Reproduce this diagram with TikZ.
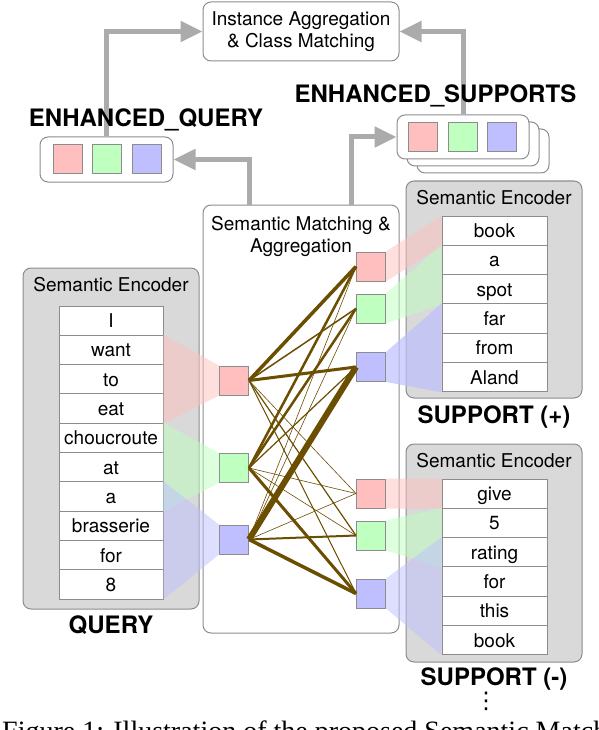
\documentclass[tikz,border=0pt]{standalone}
\usepackage{fontspec}
\setmainfont{TeX Gyre Heros}
\newfontfamily\capserif{Liberation Serif}
\newfontfamily\dotsfont{DejaVu Sans}
\usetikzlibrary{arrows.meta,positioning,calc}
\definecolor{vecpink}{HTML}{FFBFBF}
\definecolor{vecgreen}{HTML}{BFFFBF}
\definecolor{vecblue}{HTML}{BFBFFF}
\definecolor{linkbrown}{HTML}{6B4E00}
\definecolor{boxgray}{HTML}{D9D9D9}
\definecolor{edgegray}{HTML}{8C8C8C}
\definecolor{arrowgray}{HTML}{ABABAB}
\newcommand{\smfont}{\fontsize{19}{22}\selectfont}
\newcommand{\bigbold}{\fontsize{24}{28}\selectfont\bfseries}
\tikzset{
      cell/.style = {draw=edgegray, fill=white, line width=0.9pt,
                     minimum width=104pt, minimum height=29.3pt, inner sep=0pt,
                     text height=14pt, text depth=0pt, font=\smfont, alias=tmp},
       vec/.style = {draw=edgegray, line width=1pt, minimum size=29pt, inner sep=0pt},
   encoder/.style = {draw=edgegray, fill=boxgray, line width=1pt,
                     rounded corners=8pt, minimum width=176pt},
     panel/.style = {draw=edgegray, fill=white, line width=1pt, rounded corners=8pt},
      flow/.style = {draw=arrowgray, line width=5pt, -{Triangle[length=22pt,width=20pt]}},
      proj/.style = {fill opacity=0.5},
       tag/.style = {font=\bigbold, inner sep=0pt},
       lbl/.style = {font=\smfont, inner sep=0pt, align=center},
        }

\begin{document}
\begin{tikzpicture}[x=1pt,y=-1pt]
\useasboundingbox (0,0) rectangle (598,730);
% output side
\node[panel, lbl, minimum width=196pt, minimum height=59pt] (top) at (301,31.5)
     {Instance Aggregation\\\& Class Matching};
\node[panel, minimum width=133pt, minimum height=45pt] (eq) at (106.5,159.5) {};
\node[vec, fill=vecpink]  (e1) at (67.5,159) {};
\node[vec, fill=vecgreen] (e2) at (107,159) {};
\node[vec, fill=vecblue]  (e3) at (146.5,159) {};
\node[panel, minimum width=132pt, minimum height=44pt] (es2) at (483,151) {};
\node[panel, minimum width=132pt, minimum height=44pt] (es1) at (473,144) {};
\node[panel, minimum width=132pt, minimum height=44pt] (es) at (463,137) {};
\node[vec, fill=vecpink]  (f1) at (423,137) {};
\node[vec, fill=vecgreen] (f2) at (463,137) {};
\node[vec, fill=vecblue]  (f3) at (502,137) {};

% matching box and encoders
\node[panel, minimum width=196pt, minimum height=428pt] (agg) at (301,419) {};
\node[lbl, anchor=north] (aggt) at ([yshift=-12pt]agg.north) {Semantic Matching \&\\Aggregation};
\node[encoder, minimum height=341pt] (qenc) at (111,438.5) {};
\node[lbl, anchor=north] (qencl) at ([yshift=-10pt]qenc.north) {Semantic Encoder};
\node[encoder, minimum height=217pt] (penc) at (494,289.5) {};
\node[lbl, anchor=north] (pencl) at ([yshift=-10pt]penc.north) {Semantic Encoder};
\node[encoder, minimum height=218pt] (nenc) at (494,553) {};
\node[lbl, anchor=north] (nencl) at ([yshift=-10pt]nenc.north) {Semantic Encoder};

% query words
\path[nodes=cell]
node at (111,320.65) (w0) {I}
node[below=-\pgflinewidth of tmp] (w1) {want}
node[below=-\pgflinewidth of tmp] (w2) {to}
node[below=-\pgflinewidth of tmp] (w3) {eat}
node[below=-\pgflinewidth of tmp] (w4) {choucroute}
node[below=-\pgflinewidth of tmp] (w5) {at}
node[below=-\pgflinewidth of tmp] (w6) {a}
node[below=-\pgflinewidth of tmp] (w7) {brasserie}
node[below=-\pgflinewidth of tmp] (w8) {for}
node[below=-\pgflinewidth of tmp] (w9) {8};
% positive support words
\path[nodes={cell, minimum width=105pt}]
node at (494.5,230.65) (p0) {book}
node[below=-\pgflinewidth of tmp] (p1) {a}
node[below=-\pgflinewidth of tmp] (p2) {spot}
node[below=-\pgflinewidth of tmp] (p3) {far}
node[below=-\pgflinewidth of tmp] (p4) {from}
node[below=-\pgflinewidth of tmp] (p5) {Aland};
% negative support words
\path[nodes={cell, minimum width=105pt}]
node at (494.5,493.65) (n0) {give}
node[below=-\pgflinewidth of tmp] (n1) {5}
node[below=-\pgflinewidth of tmp] (n2) {rating}
node[below=-\pgflinewidth of tmp] (n3) {for}
node[below=-\pgflinewidth of tmp] (n4) {this}
node[below=-\pgflinewidth of tmp] (n5) {book};

% vectors
\node[vec, fill=vecpink]  (qv1) at (234,380.5) {};
\node[vec, fill=vecgreen] (qv2) at (234,468) {};
\node[vec, fill=vecblue]  (qv3) at (234,539.5) {};
\node[vec, fill=vecpink]  (pv1) at (371,266.5) {};
\node[vec, fill=vecgreen] (pv2) at (371,308.5) {};
\node[vec, fill=vecblue]  (pv3) at (371,367) {};
\node[vec, fill=vecpink]  (nv1) at (371,493.5) {};
\node[vec, fill=vecgreen] (nv2) at (371,535.5) {};
\node[vec, fill=vecblue]  (nv3) at (371,593.5) {};

% projections
\fill[vecpink, proj]  (w1.north east) -- (qv1.north west) -- (qv1.south west) -- (w3.south east) -- cycle;
\fill[vecgreen, proj] (w4.north east) -- (qv2.north west) -- (qv2.south west) -- (w6.south east) -- cycle;
\fill[vecblue, proj]  (w6.north east) -- (qv3.north west) -- (qv3.south west) -- (w9.south east) -- cycle;
\fill[vecpink, proj]  (pv1.north east) -- (p0.north west) -- (p0.south west) -- (pv1.south east) -- cycle;
\fill[vecgreen, proj] (pv2.north east) -- (p1.north west) -- (p2.south west) -- (pv2.south east) -- cycle;
\fill[vecblue, proj, fill opacity=0.7] (pv3.north east) -- (p3.north west) -- (p5.south west) -- (pv3.south east) -- cycle;
\fill[vecpink, proj]  (nv1.north east) -- (n0.north west) -- (n0.south west) -- (nv1.south east) -- cycle;
\fill[vecgreen, proj] (nv2.north east) -- (n1.north west) -- (n2.south west) -- (nv2.south east) -- cycle;
\fill[vecblue, proj]  (nv3.north east) -- (n2.north west) -- (n5.south west) -- (nv3.south east) -- cycle;

% matching links
\foreach \a/\b/\w in {qv1/pv1/3.5, qv1/pv2/1.5, qv1/pv3/3, qv1/nv1/0.6, qv1/nv2/1.2, qv1/nv3/1,
                      qv2/pv1/2.5, qv2/pv2/2.5, qv2/pv3/1.2, qv2/nv1/0.6, qv2/nv2/0.6, qv2/nv3/3,
                      qv3/pv1/0.6, qv3/pv2/0.6, qv3/pv3/6, qv3/nv1/0.6, qv3/nv2/2, qv3/nv3/3.5}
  \draw[linkbrown, line width=\w pt] (\a.east) -- (\b.west);

% flow arrows
\draw[flow] ([xshift=47pt]agg.north west) |- (eq.east);
\draw[flow] ([xshift=-48pt]agg.north east) |- (es.west);
\draw[flow] (eq.north) |- (top.west);
\draw[flow] (es.north) |- (top.east);

% titles
\node[tag, anchor=base] (eqt) at (146,127) {ENHANCED\_QUERY};
\node[tag, anchor=base] (est) at (435.5,103) {ENHANCED\_SUPPORTS};
\node[tag, below=6pt of qenc] (qt) {QUERY};
\node[tag, below=7pt of penc] (pt) {SUPPORT (+)};
\node[tag, below=5pt of nenc] (nt) {SUPPORT (-)};
\node[inner sep=0pt, font=\dotsfont\fontsize{23}{23}\selectfont] (dots) at (486,701.5) {⋮};
\node[anchor=base west, inner sep=0pt, font=\capserif\fontsize{28}{32}\selectfont] (cap) at (2,740)
     {Figure 1: Illustration of the proposed Semantic Matching};
\end{tikzpicture}
\end{document}
